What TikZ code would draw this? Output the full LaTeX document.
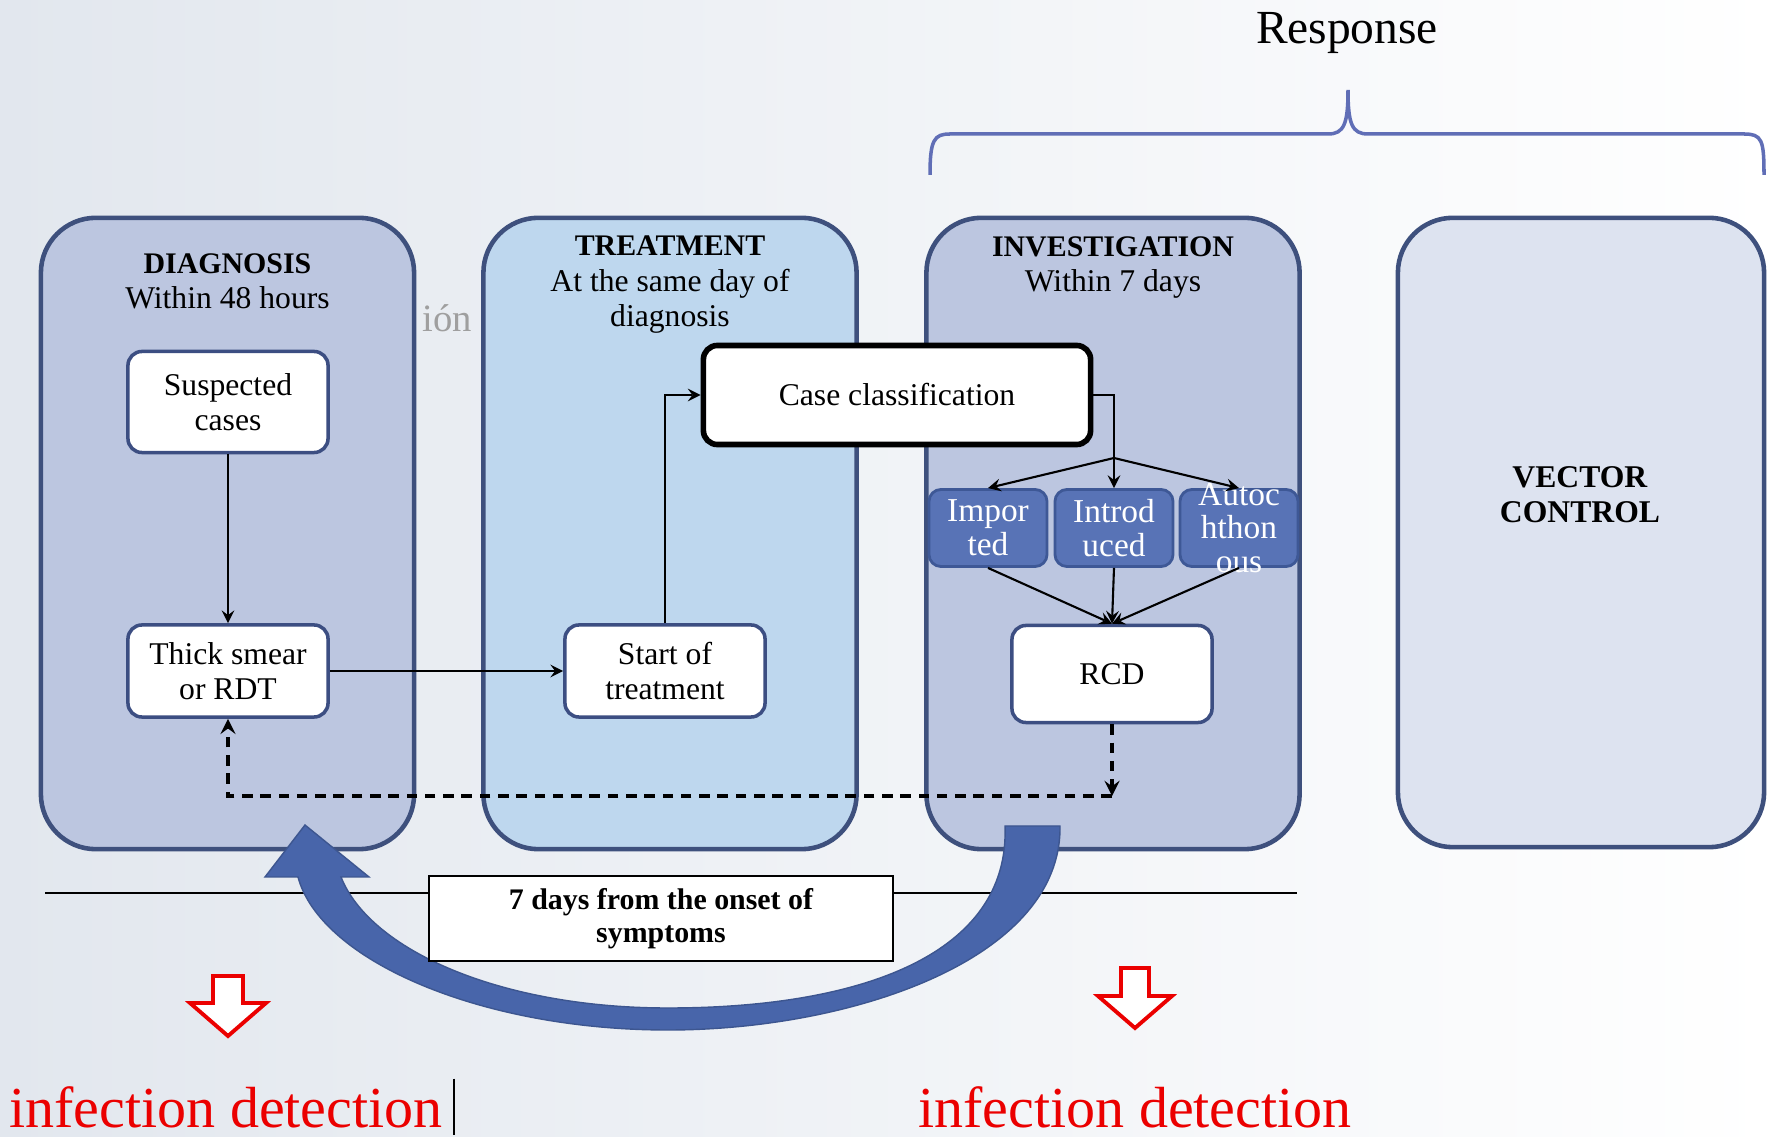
\documentclass[tikz,border=0pt]{standalone}
\usepackage{fontspec}
\setmainfont{Liberation Serif}
\definecolor{phaseline}{RGB}{62,80,125}
\definecolor{diagfill}{RGB}{188,198,224}
\definecolor{treatfill}{RGB}{190,215,238}
\definecolor{vectfill}{RGB}{221,227,240}
\definecolor{boxline}{RGB}{60,78,130}
\definecolor{clsfill}{RGB}{88,115,182}
\definecolor{clsline}{RGB}{62,88,150}
\definecolor{bigarrow}{RGB}{72,101,170}
\definecolor{bracecol}{RGB}{96,110,182}
\definecolor{bgleft}{RGB}{226,231,238}
\definecolor{detred}{RGB}{235,0,0}
\tikzset{
  every picture/.style={font=\fontsize{9}{10}\selectfont, >=stealth}}

\begin{document}
\begin{tikzpicture}[x=0.01cm, y=-0.01cm,
    phase/.style={
      draw=phaseline,
      line width=1.3pt,
      rounded corners=0.55cm,
      minimum width=3.73cm,
      minimum height=6.31cm},
    title/.style={align=center, inner sep=0pt},
    stepbox/.style={
      draw=boxline,
      line width=1pt,
      fill=white,
      rounded corners=0.14cm,
      align=center,
      minimum width=2cm,
      minimum height=0.95cm},
    classbox/.style={
      draw=clsline,
      line width=0.8pt,
      fill=clsfill,
      rounded corners=0.12cm,
      minimum width=1.18cm,
      minimum height=0.77cm},
    classtext/.style={text=white, align=center, inner sep=0pt,
      font=\fontsize{9.5}{9.6}\selectfont},
    flow/.style={->, line width=0.6pt},
    backflow/.style={->, line width=0.9pt, dash pattern=on 3pt off 2.2pt},
    hollowdown/.style={draw=detred, fill=white, line width=1.1pt, line join=miter},
    detection/.style={text=detred, inner sep=0pt, font=\fontsize{16.5}{18}\selectfont}]

    \shade[left color=bgleft, right color=white] (0,0) rectangle (1775,1137);
    \useasboundingbox (0,0) rectangle (1775,1137);

    \node[font=\fontsize{13.5}{15}\selectfont] (response) at (1347,33) {Response};
    \draw[bracecol, line width=1pt] (930,175) .. controls (930,140) and (934,134) .. (950,134)
      -- (1328,134) .. controls (1344,134) and (1348,124) .. (1348,90)
      .. controls (1348,124) and (1352,134) .. (1368,134)
      -- (1744,134) .. controls (1762,134) and (1764,140) .. (1764,175);

    \node[text=gray!75, anchor=west, font=\fontsize{11}{12}\selectfont] (ghost) at (410,318) {ión};

    \node[phase, fill=diagfill] (diag) at (227.5,533.5) {};
    \node[phase, fill=treatfill] (treat) at (670,533.5) {};
    \node[phase, fill=diagfill] (invest) at (1113,533.5) {};
    \node[phase, fill=vectfill, minimum width=3.66cm, minimum height=6.29cm] (vector) at (1581,532.5) {};

    \node[title, below=0.37cm] at (diag.north) {\textbf{\fontsize{8.5}{10}\selectfont DIAGNOSIS}\\Within 48 hours};
    \node[title, below=0.2cm] at (treat.north) {\textbf{\fontsize{8.5}{10}\selectfont TREATMENT}\\At the same day of\\diagnosis};
    \node[title, below=0.2cm] at (invest.north) {\textbf{\fontsize{8.5}{10}\selectfont INVESTIGATION}\\Within 7 days};
    \node[title] at (1580,495) {\textbf{VECTOR}\\\textbf{CONTROL}};

    \node[stepbox, minimum height=1.01cm] (suspected) at (228,402) {Suspected\\cases};
    \node[stepbox, minimum height=0.92cm] (smear) at (228,671) {Thick smear\\or RDT};
    \node[stepbox, minimum height=0.92cm] (start) at (665,671) {Start of\\treatment};
    \node[stepbox, draw=black, line width=1.6pt, minimum width=3.87cm, minimum height=0.99cm] (caseclass) at (897,395) {Case classification};
    \node[stepbox, minimum height=0.97cm] (rcd) at (1112,674) {RCD};

    \node[classbox] (imported) at (988,528) {};
    \node[classbox] (introduced) at (1114,528) {};
    \node[classbox] (autoch) at (1239,528) {};
    \node[classtext] at (imported) {Impor\\ted};
    \node[classtext] at (introduced) {Introd\\uced};
    \node[classtext] at (autoch) {Autoc\\hthon\\ous};

    \draw[flow] (suspected) -- (smear);
    \draw[flow] (smear) -- (start);
    \draw[flow] (start.north) |- (caseclass.west);
    \draw[flow] (caseclass.east) -| (introduced.north);
    \coordinate (split) at (1114,458);
    \draw[flow] (split) -- (imported.north);
    \draw[flow] (split) -- (autoch.north);
    \foreach \c in {imported, introduced, autoch}
      \draw[flow] (\c.south) -- (rcd.north);

    \coordinate (turn) at (1112,796);
    \draw[backflow] (rcd) -- (turn);
    \draw[backflow] (turn) -- (smear |- turn) -- (smear);

    \coordinate (tl start) at (45,893);
    \coordinate (tl end) at (1297,893);
    \draw[line width=0.7pt] (tl start) -- (tl end);

    \filldraw[fill=bigarrow, draw=bigarrow!85!black, line width=0.4pt]
      (1005,826) -- (1060,826)
      .. controls (1062,960) and (850,1030) .. (668,1030)
      .. controls (480,1030) and (320,960) .. (298,877)
      -- (265,877) -- (305,825) -- (369,877) -- (341,877)
      .. controls (370,950) and (500,1008) .. (668,1008)
      .. controls (860,1008) and (1010,955) .. (1005,826) -- cycle;

    \node[draw=black, line width=0.6pt, fill=white, minimum width=4.64cm, minimum height=0.83cm,
      align=center, font=\bfseries\fontsize{8.5}{9.5}\selectfont] (window) at (661,918.5)
      {7 days from the onset of\\symptoms};

    \draw[hollowdown] (213,976) -- (243,976) -- (243,1003) -- (266,1003) -- (228,1036)
      -- (190,1003) -- (213,1003) -- cycle;
    \draw[hollowdown] (1121,968) -- (1149,968) -- (1149,996) -- (1172,996) -- (1135,1028)
      -- (1098,996) -- (1121,996) -- cycle;

    \node[detection] (detect left) at (226,1107) {infection detection};
    \node[detection] (detect right) at (1135,1107) {infection detection};
    \draw[line width=0.6pt] ([xshift=3pt,yshift=2pt]detect left.north east) -- ([xshift=3pt,yshift=-2pt]detect left.south east);
  \end{tikzpicture}
\end{document}
